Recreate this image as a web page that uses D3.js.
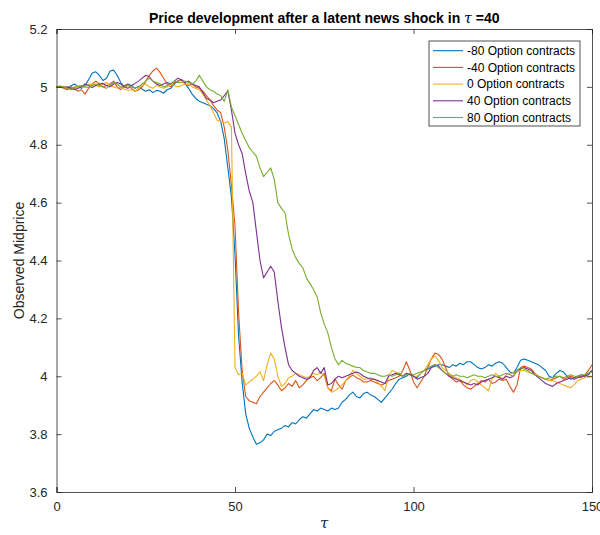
<!DOCTYPE html>
<html><head><meta charset="utf-8">
<script src="https://cdn.jsdelivr.net/npm/d3@7"></script>
<style>body{margin:0;background:#fff;} text{font-family:"Liberation Sans",Arial,sans-serif;}</style>
</head><body><svg id="c" width="600" height="535"></svg>
<script>
const seriesNames = ["-80 Option contracts","-40 Option contracts","0 Option contracts","40 Option contracts","80 Option contracts"];
const colors = ["#0072BD","#D95319","#EDB120","#7E2F8E","#77AC30"];
const xTicks = [0,50,100,150];
const yTicks = [3.6,3.8,4,4.2,4.4,4.6,4.8,5,5.2];

const sNeg80 = [5.000,5.002,4.998,4.995,5.003,5.010,5.002,4.995,5.005,5.025,5.048,5.052,5.040,5.022,5.030,5.055,5.058,5.040,5.015,5.000,
5.010,5.005,4.995,5.002,4.992,4.985,4.990,4.980,4.988,4.985,4.978,4.990,4.995,5.010,5.020,5.025,5.012,4.995,4.975,4.960,
4.950,4.945,4.940,4.935,4.925,4.910,4.880,4.820,4.720,4.620,4.420,4.140,3.980,3.870,3.820,3.790,3.765,3.770,3.780,3.800,
3.795,3.810,3.815,3.820,3.830,3.825,3.840,3.835,3.850,3.860,3.855,3.870,3.885,3.880,3.890,3.885,3.880,3.890,3.885,3.890,
3.910,3.920,3.935,3.945,3.930,3.925,3.940,3.945,3.935,3.930,3.920,3.910,3.925,3.940,3.955,3.975,3.990,3.995,4.000,4.010,
4.000,3.995,4.010,4.020,4.025,4.030,4.035,4.040,4.040,4.035,4.030,4.040,4.035,4.045,4.040,4.050,4.050,4.040,4.030,4.025,
4.030,4.040,4.035,4.045,4.050,4.045,4.030,4.015,4.010,4.030,4.055,4.060,4.055,4.050,4.045,4.040,4.030,4.020,4.000,3.995,
4.010,4.020,4.015,4.000,3.990,3.995,4.000,4.005,4.000,4.010,4.020];
const sNeg40 = [5.000,5.000,4.995,4.990,5.000,4.995,4.985,4.990,4.975,4.995,5.010,5.020,5.010,5.000,5.005,5.010,5.020,5.000,4.990,5.005,
5.010,4.995,4.985,4.990,5.000,5.020,5.040,5.055,5.065,5.050,5.030,5.010,5.000,5.015,5.020,5.025,5.010,5.005,5.010,5.000,
4.995,4.985,4.970,4.955,4.935,4.920,4.910,4.860,4.780,4.660,4.520,4.220,4.020,3.930,3.915,3.910,3.905,3.930,3.945,3.960,
3.975,3.985,3.970,3.950,3.960,3.975,3.965,3.985,3.960,3.970,3.985,3.995,4.000,3.985,3.995,4.010,3.960,3.950,3.990,3.970,
3.955,3.985,3.995,4.005,3.995,3.990,3.980,3.980,3.985,3.980,3.975,3.970,3.975,3.985,3.990,3.995,4.000,4.020,4.050,4.020,
3.980,3.960,3.980,4.000,4.030,4.060,4.080,4.075,4.060,4.030,4.000,3.990,3.980,3.985,3.970,3.960,3.955,3.965,3.975,3.985,
3.980,3.990,3.975,3.980,3.990,3.985,3.990,3.965,3.945,3.970,4.030,4.035,4.030,4.025,4.010,4.000,3.995,3.990,3.985,3.990,
3.995,4.000,3.990,3.995,4.000,3.995,4.000,3.995,4.005,4.020,4.040];
const s0 = [5.000,4.998,5.002,4.995,4.990,5.000,5.005,4.998,5.000,5.008,5.010,5.005,5.000,5.010,5.015,5.005,5.000,4.995,5.000,4.992,
4.988,4.990,4.985,4.995,5.005,5.010,5.000,4.995,5.005,5.000,4.995,5.000,5.010,5.005,5.000,5.005,5.010,5.010,5.000,4.995,
4.990,4.975,4.955,4.935,4.910,4.885,4.880,4.875,4.880,4.860,4.030,4.005,4.010,3.970,3.980,3.990,4.000,4.015,3.985,4.040,
4.080,4.060,4.000,3.965,3.975,3.995,4.000,4.010,4.005,4.000,3.995,4.000,4.010,4.005,4.015,4.000,3.960,3.945,3.950,3.960,
3.970,3.985,4.000,4.020,4.010,4.000,3.990,3.990,3.995,3.990,3.980,3.965,3.950,4.000,4.020,4.015,4.010,4.000,4.010,4.005,
4.000,4.000,4.010,4.020,4.040,4.060,4.070,4.055,4.030,4.020,4.010,4.000,3.995,3.990,3.980,3.970,3.985,3.990,3.980,3.970,
3.960,3.950,3.990,4.010,4.000,3.990,4.005,4.010,4.010,4.015,4.020,4.020,4.015,4.010,4.010,4.000,3.995,3.990,3.985,3.985,
3.980,3.975,3.970,3.965,3.960,3.970,3.985,3.990,3.995,4.000,4.000];
const s40 = [5.000,5.000,4.998,5.000,4.995,4.990,4.995,5.000,5.010,5.005,4.998,5.005,5.010,5.012,5.005,5.000,5.010,5.015,5.010,5.000,
4.995,5.005,5.012,5.020,5.030,5.040,5.035,5.020,5.010,5.005,5.010,5.015,5.010,5.020,5.030,5.025,5.015,5.020,5.010,5.005,
5.000,4.980,4.960,4.955,4.945,4.950,4.955,4.970,4.985,4.920,4.840,4.800,4.770,4.700,4.640,4.600,4.500,4.400,4.340,4.360,
4.380,4.360,4.260,4.170,4.100,4.040,4.020,4.010,4.000,3.995,3.990,3.995,4.020,4.030,4.010,4.030,3.970,3.975,3.990,4.000,
3.995,4.000,4.005,4.010,4.015,4.010,4.000,3.995,3.990,3.990,3.985,3.980,3.975,4.000,4.005,4.010,4.005,4.000,4.010,4.005,
4.000,3.990,3.995,4.000,4.010,4.030,4.040,4.035,4.020,4.010,4.000,3.995,3.990,3.985,3.980,3.975,3.970,3.975,3.970,3.980,
3.985,3.990,3.995,4.000,3.995,3.990,4.000,3.995,4.000,4.020,4.025,4.030,4.025,4.020,4.005,3.995,3.985,3.975,3.970,3.965,
3.975,3.980,3.985,3.990,3.995,3.990,3.995,4.000,4.000,4.005,4.020];
const s80 = [5.000,5.003,5.000,4.995,4.990,4.998,5.000,5.005,5.000,4.998,5.005,5.010,5.005,5.000,4.995,5.005,5.015,5.010,5.000,4.998,
5.005,5.000,4.995,5.000,5.010,5.020,5.030,5.020,5.015,5.010,5.000,5.005,5.010,5.020,5.015,5.015,5.020,5.015,5.010,5.020,
5.040,5.020,5.000,4.990,4.985,4.975,4.970,4.950,4.990,4.930,4.900,4.870,4.840,4.815,4.790,4.775,4.760,4.720,4.690,4.705,
4.720,4.680,4.600,4.580,4.565,4.490,4.440,4.410,4.390,4.375,4.340,4.320,4.300,4.275,4.220,4.180,4.150,4.100,4.060,4.040,
4.055,4.045,4.040,4.035,4.030,4.030,4.020,4.015,4.010,4.010,4.005,4.000,4.000,4.005,4.000,4.005,4.010,4.000,4.005,4.010,
4.005,4.010,4.015,4.020,4.030,4.035,4.040,4.030,4.020,4.010,4.005,4.000,4.005,4.000,4.000,3.995,4.000,4.005,4.000,4.000,
3.995,4.000,4.005,4.000,4.000,4.005,4.010,4.005,4.000,4.020,4.030,4.025,4.020,4.010,4.005,4.000,3.995,3.990,3.995,3.995,
4.000,4.000,3.995,4.000,4.005,4.000,4.000,4.005,4.005,4.010,4.015];
const allSeries = [sNeg80, sNeg40, s0, s40, s80];

const svg = d3.select("#c");
const L = 56.5, R = 592, T = 29, B = 492;
const x = d3.scaleLinear().domain([0,150]).range([L,R]);
const y = d3.scaleLinear().domain([3.6,5.2]).range([B,T]);
const axisCol = "#262626";

// lines
const line = d3.line().x((d,i)=>x(i)).y(d=>y(d));
svg.append("g").selectAll("path").data(allSeries).join("path")
  .attr("d", line).attr("fill","none")
  .attr("stroke",(d,i)=>colors[i]).attr("stroke-width",1.1).attr("stroke-linejoin","round");

// axes
const fs = 13;
const ax = svg.append("g").attr("transform",`translate(0,${B})`)
  .call(d3.axisBottom(x).tickValues(xTicks).tickSize(-5).tickPadding(10).tickFormat(d3.format("d")));
const axT = svg.append("g").attr("transform",`translate(0,${T})`)
  .call(d3.axisTop(x).tickValues(xTicks).tickSize(-5).tickFormat(""));
const ay = svg.append("g").attr("transform",`translate(${L},0)`)
  .call(d3.axisLeft(y).tickValues(yTicks).tickSize(-5).tickPadding(9).tickFormat(d=>d3.format("")(+d.toFixed(1))));
const ayR = svg.append("g").attr("transform",`translate(${R},0)`)
  .call(d3.axisRight(y).tickValues(yTicks).tickSize(-5).tickFormat(""));
[ax,axT,ay,ayR].forEach(g=>{
  g.selectAll("path.domain").attr("stroke",axisCol).attr("stroke-width",0.8);
  g.selectAll(".tick line").attr("stroke",axisCol).attr("stroke-width",0.8);
  g.selectAll("text").attr("fill",axisCol).style("font-size",fs+"px").style("font-family","'Liberation Sans',Arial,sans-serif");
});
// hide the 5.2/3.6 tick marks overlap — fine as is

// title
svg.append("text").attr("x",(L+R)/2).attr("y",23).attr("text-anchor","middle")
  .style("font-size","14px").style("font-weight","bold").attr("fill","#000")
  .text("Price development after a latent news shock in ")
  .append("tspan").style("font-style","italic").style("font-weight","normal").style("font-family","'DejaVu Serif',serif").text("τ")
  .select(function(){return this.parentNode;})
  .append("tspan").text(" =40");

// axis labels
svg.append("text").attr("x",(L+R)/2).attr("y",528).attr("text-anchor","middle")
  .style("font-size","15px").style("font-style","italic").style("font-family","'DejaVu Serif',serif").attr("fill",axisCol).text("τ");
svg.append("text").attr("transform",`translate(24,${(T+B)/2}) rotate(-90)`).attr("text-anchor","middle")
  .style("font-size","14px").attr("fill",axisCol).text("Observed Midprice");

// legend
const lg = svg.append("g");
const lx = 429, ly = 41, lw = 151, lh = 85, rowH = 16.7;
lg.append("rect").attr("x",lx).attr("y",ly).attr("width",lw).attr("height",lh)
  .attr("fill","#fff").attr("stroke",axisCol).attr("stroke-width",0.8);
seriesNames.forEach((n,i)=>{
  const yy = ly + 9.7 + i*rowH;
  lg.append("line").attr("x1",lx+4).attr("x2",lx+34).attr("y1",yy).attr("y2",yy)
    .attr("stroke",colors[i]).attr("stroke-width",1.1);
  lg.append("text").attr("x",lx+38).attr("y",yy+4.3).style("font-size","12px").attr("fill","#000").text(n);
});
</script></body></html>
